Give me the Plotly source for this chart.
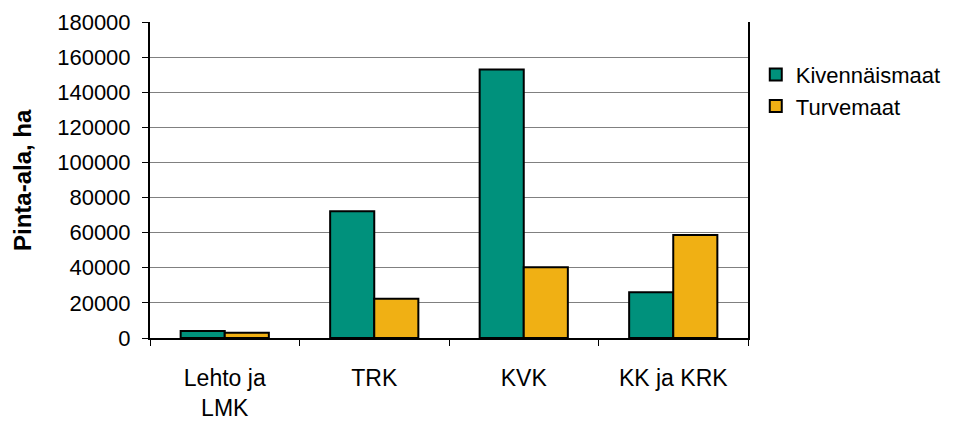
import plotly.graph_objects as go

categories = ["Lehto ja<br>LMK", "TRK", "KVK", "KK ja KRK"]
kivennaismaat = [4000, 72200, 153000, 26000]
turvemaat = [3000, 22300, 40300, 58700]
y_ticks = list(range(0, 180001, 20000))

fig = go.Figure()
fig.add_trace(go.Bar(x=categories, y=kivennaismaat, name="Kivennäismaat",
                     marker=dict(color="#00917c", line=dict(color="black", width=2))))
fig.add_trace(go.Bar(x=categories, y=turvemaat, name="Turvemaat",
                     marker=dict(color="#f0b014", line=dict(color="black", width=2))))

# page body has an 8px margin, so margins are shifted by that
fig.update_layout(
    width=968, height=421,
    margin=dict(l=142, r=228, t=14, b=91),
    plot_bgcolor="white", paper_bgcolor="white",
    font=dict(family="Liberation Sans, Arial", size=22, color="black"),
    bargap=0.41, bargroupgap=0,
    legend=dict(x=1.013, y=0.90, xanchor="left", yanchor="top",
                font=dict(size=22), tracegroupgap=0, itemwidth=30),
    xaxis=dict(showline=True, linecolor="black", linewidth=2, automargin=False,
               ticks="outside", tickson="boundaries", ticklen=6, tickcolor="black",
               tickfont=dict(size=23), ticklabelstandoff=18),
    yaxis=dict(range=[0, 180000], tickvals=y_ticks, ticktext=[str(v) for v in y_ticks],
               showgrid=True, gridcolor="#808080", gridwidth=1, automargin=False,
               showline=True, linecolor="black", linewidth=2, mirror=True,
               ticks="outside", ticklen=6, tickcolor="black",
               tickfont=dict(size=22), ticklabelstandoff=7, ticklabeloverflow="allow"),
)
# y title as annotation so it sits at the left edge like the original
fig.add_annotation(text="<b>Pinta-ala, ha</b>", xref="paper", yref="paper",
                   x=-0.214, y=0.5, xanchor="center", yanchor="middle",
                   textangle=-90, showarrow=False, font=dict(size=24))

fig.write_html("out.html")
